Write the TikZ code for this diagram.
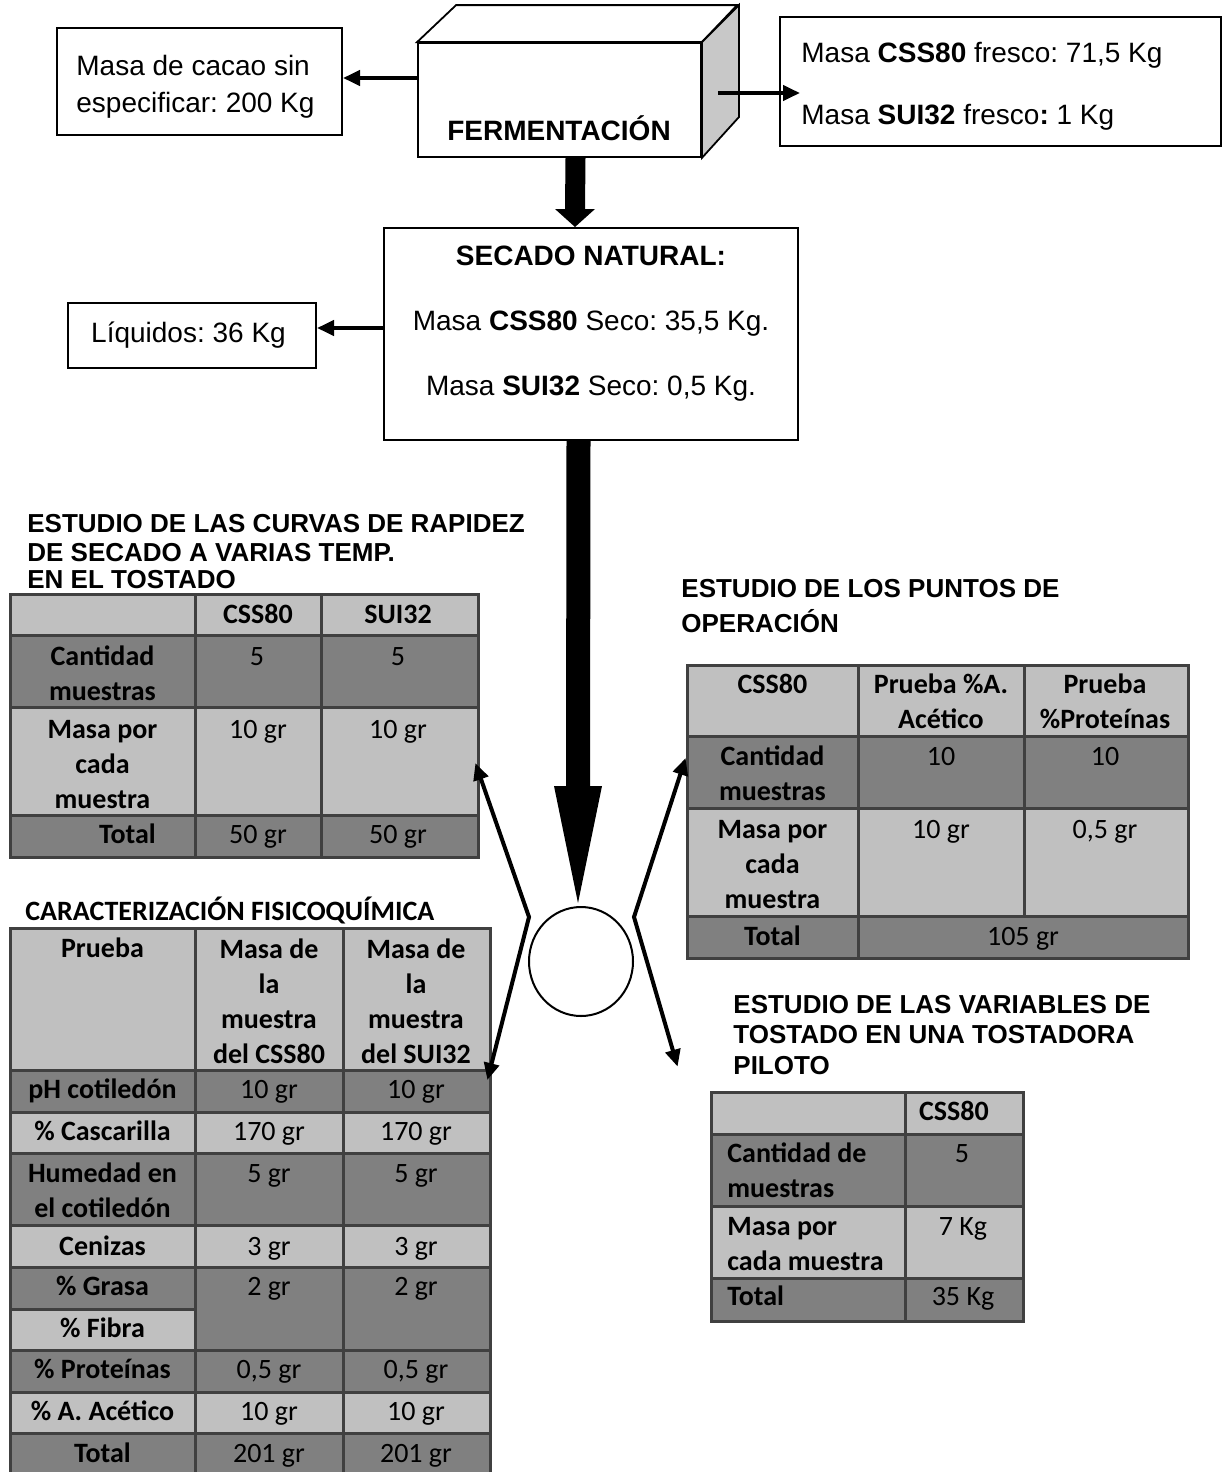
\documentclass[tikz,border=0pt]{standalone}
\usepackage{fontspec}
\setmainfont{Liberation Sans}
\newfontfamily\calfont{Carlito}
\usetikzlibrary{arrows.meta,fit,calc,shapes.geometric}
\definecolor{lgray}{HTML}{C0C0C0}
\definecolor{dgray}{HTML}{808080}
\definecolor{bgray}{HTML}{404040}
\definecolor{sidegray}{HTML}{C8C8C8}
\newcommand\thickarr[5]{%
  \fill ($(#1)+(-#3,0)$) -- ($(#2)+(-#3,-#5)$) -- ($(#2)+(-#4,-#5)$) -- (#2)
    -- ($(#2)+(#4,-#5)$) -- ($(#2)+(#3,-#5)$) -- ($(#1)+(#3,0)$) -- cycle;}
\frenchspacing
\begin{document}
\frenchspacing
\begin{tikzpicture}[x=0.5pt,y=-0.5pt,
  box/.style={draw=black, line width=1pt, inner sep=0pt},
  btxt/.style={font=\fontsize{14}{17}\selectfont, inner sep=0pt},
  bbtxt/.style={font=\fontsize{14}{17}\selectfont\bfseries, inner sep=0pt},
  ttl/.style={font=\fontsize{13}{15}\selectfont\bfseries, inner sep=0pt, anchor=base west},
  ctx/.style={font=\calfont\fontsize{14}{17.5}\selectfont, inner sep=0pt, anchor=base, align=center},
  cbx/.style={font=\calfont\fontsize{14}{17.5}\selectfont\bfseries, inner sep=0pt, anchor=base, align=center},
  cbl/.style={font=\calfont\fontsize{14}{17.5}\selectfont\bfseries, inner sep=0pt, anchor=base west, align=left},
  tarrow/.style={line width=2pt, -{Triangle[length=8.5pt,width=7.5pt]}},
  grid/.style={draw=bgray, line width=1.5pt},
  tabnode/.style={inner sep=0pt}]
\useasboundingbox (0,0) rectangle (1225,1472);

% ---------- cube ----------
\node[fit={(418,43)(701,157)}, box, line width=0.9pt] (cube) {};
\filldraw[fill=white, line width=0.9pt] (cube.north west) -- ++(39,-37) -- ++(281,0) -- (cube.north east) -- cycle;
\filldraw[fill=sidegray, line width=0.9pt] (cube.north east) -- ++(37,-37) -- ++(0,112) -- (cube.south east) -- cycle;
\node[bbtxt, anchor=base] (ferm) at (559,140) {FERMENTACIÓN};

% ---------- left box ----------
\node[box, fit={(57,28)(342,135)}] (bL) {};
\node[btxt, anchor=base west] (bL1) at (76,75) {Masa de cacao sin};
\node[btxt, anchor=base west] (bL2) at (76,112) {especificar: 200 Kg};
\draw[tarrow] (cube.west |- 0,78) -- (bL.east |- 0,78);

% ---------- right box ----------
\node[box, fit={(780,17)(1221,146)}] (bR) {};
\node[btxt, anchor=base west] (bR1) at (801,62) {Masa \textbf{CSS80} fresco: 71,5 Kg};
\node[btxt, anchor=base west] (bR2) at (801,124) {Masa \textbf{SUI32} fresco\textbf{:} 1 Kg};
\draw[tarrow] ($(cube.east)+(16,-7)$) -- ($(bR.west |- 0,93)+(21,0)$);

% ---------- secado ----------
\node[box, fit={(384,228)(798,440)}] (sec) {};
\node[bbtxt, anchor=base] (sec1) at (591,265) {SECADO NATURAL:};
\node[btxt, anchor=base] (sec2) at (591,330) {Masa \textbf{CSS80} Seco: 35,5 Kg.};
\node[btxt, anchor=base] (sec3) at (591,395) {Masa \textbf{SUI32} Seco: 0,5 Kg.};
\coordinate (a1s) at ($(cube.south)+(16,0)$);
\coordinate (a1e) at ($(sec.north)+(-16,0)$);
\thickarr{a1s}{a1e}{10}{20}{18}

% ---------- liquidos ----------
\node[box, fit={(68,303)(316,368)}] (liq) {};
\node[btxt, anchor=base] (liq1) at (188.5,342) {Líquidos: 36 Kg};
\draw[tarrow] (sec.west |- 0,328) -- (liq.east |- 0,328);

% ---------- circle ----------
\node[draw, ellipse, line width=1pt, minimum width=52pt, minimum height=54.5pt, inner sep=0pt] (circ) at (581,961.5) {};
\coordinate (a2s) at ($(sec.south)+(-12.5,0)$);
\coordinate (a2e) at ($(circ.north)+(-3,-3)$);
\thickarr{a2s}{a2e}{12}{24}{117}

% ---------- table 1 ----------
\node[ttl] (t1a) at (27,532) {ESTUDIO DE LAS CURVAS DE RAPIDEZ};
\node[ttl] (t1b) at (27,561) {DE SECADO A VARIAS TEMP.};
\node[ttl] (t1c) at (27,588) {EN EL TOSTADO};
\fill[lgray] (10,594) rectangle (478,635);
\fill[dgray] (10,635) rectangle (478,707);
\fill[lgray] (10,707) rectangle (478,815);
\fill[dgray] (10,815) rectangle (478,857);
\draw[grid] (10,594) rectangle (478,857);
\draw[grid] (10,635) -- (478,635) (10,707) -- (478,707) (10,815) -- (478,815)
  (195,594) -- (195,857) (321,594) -- (321,857);
\node[tabnode, fit={(10,594)(478,857)}] (tab1) {};
\node[cbx] (c1a) at (258,623) {CSS80};
\node[cbx] (c1b) at (398,623) {SUI32};
\node[cbx] (c1c) at (102.5,700) {Cantidad\\muestras};
\node[ctx] (c1d) at (257,665) {5};
\node[ctx] (c1e) at (398,665) {5};
\node[cbx] (c1f) at (102.5,808) {Masa por\\cada\\muestra};
\node[ctx] (c1g) at (258,738) {10 gr};
\node[ctx] (c1h) at (398,738) {10 gr};
\node[cbx] (c1i) at (127.5,843) {Total};
\node[ctx] (c1j) at (258,843) {50 gr};
\node[ctx] (c1k) at (398,843) {50 gr};

% ---------- table 2 ----------
\node[ttl] (t2a) at (681,597) {ESTUDIO DE LOS PUNTOS DE};
\node[ttl] (t2b) at (681,632) {OPERACIÓN};
\fill[lgray] (687,665) rectangle (1188,736);
\fill[dgray] (687,736) rectangle (1188,808);
\fill[lgray] (687,808) rectangle (1188,916);
\fill[dgray] (687,916) rectangle (1188,958);
\draw[grid] (687,665) rectangle (1188,958);
\draw[grid] (687,736) -- (1188,736) (687,808) -- (1188,808) (687,916) -- (1188,916)
  (858,665) -- (858,958) (1024,665) -- (1024,916);
\node[tabnode, fit={(687,665)(1188,958)}] (tab2) {};
\node[cbx] (c2a) at (772.5,693) {CSS80};
\node[cbx] (c2b) at (941,728) {Prueba \%A.\\Acético};
\node[cbx] (c2c) at (1105,728) {Prueba\\\%Proteínas};
\node[cbx] (c2d) at (772.5,800) {Cantidad\\muestras};
\node[ctx] (c2e) at (941,765) {10};
\node[ctx] (c2f) at (1105,765) {10};
\node[cbx] (c2g) at (772.5,908) {Masa por\\cada\\muestra};
\node[ctx] (c2h) at (941,838) {10 gr};
\node[ctx] (c2i) at (1105,838) {0,5 gr};
\node[cbx] (c2j) at (772.5,945) {Total};
\node[ctx] (c2k) at (1023,945) {105 gr};

% ---------- table 3 ----------
\node[cbl] (t3a) at (25,920) {CARACTERIZACIÓN FISICOQUÍMICA};
\fill[lgray] (10,928) rectangle (490,1070);
\fill[dgray] (10,1070) rectangle (490,1112);
\fill[lgray] (10,1112) rectangle (490,1153);
\fill[dgray] (10,1153) rectangle (490,1225);
\fill[lgray] (10,1225) rectangle (490,1267);
\fill[dgray] (10,1267) rectangle (490,1350);
\fill[lgray] (10,1309) rectangle (195,1350);
\fill[dgray] (10,1350) rectangle (490,1392);
\fill[lgray] (10,1392) rectangle (490,1433);
\fill[dgray] (10,1433) rectangle (490,1474);
\draw[grid] (10,928) rectangle (490,1474);
\draw[grid] (10,1070) -- (490,1070) (10,1112) -- (490,1112) (10,1153) -- (490,1153)
  (10,1225) -- (490,1225) (10,1267) -- (490,1267) (10,1309) -- (195,1309)
  (10,1350) -- (490,1350) (10,1392) -- (490,1392) (10,1433) -- (490,1433)
  (195,928) -- (195,1474) (343,928) -- (343,1474);
\node[tabnode, fit={(10,928)(490,1474)}] (tab3) {};
\node[cbx] (c3a) at (102.5,957) {Prueba};
\node[cbx] (c3b) at (269,1063) {Masa de\\la\\muestra\\del CSS80};
\node[cbx] (c3c) at (416,1063) {Masa de\\la\\muestra\\del SUI32};
\node[cbx] (c3d) at (102.5,1098) {pH cotiledón};
\node[ctx] (c3e) at (269,1098) {10 gr};
\node[ctx] (c3f) at (416,1098) {10 gr};
\node[cbx] (c3g) at (102.5,1140) {\% Cascarilla};
\node[ctx] (c3h) at (269,1140) {170 gr};
\node[ctx] (c3i) at (416,1140) {170 gr};
\node[cbx] (c3j) at (102.5,1217) {Humedad en\\el cotiledón};
\node[ctx] (c3k) at (269,1182) {5 gr};
\node[ctx] (c3l) at (416,1182) {5 gr};
\node[cbx] (c3m) at (102.5,1255) {Cenizas};
\node[ctx] (c3n) at (269,1255) {3 gr};
\node[ctx] (c3o) at (416,1255) {3 gr};
\node[cbx] (c3p) at (102.5,1295) {\% Grasa};
\node[ctx] (c3q) at (269,1295) {2 gr};
\node[ctx] (c3r) at (416,1295) {2 gr};
\node[cbx] (c3s) at (102.5,1337) {\% Fibra};
\node[cbx] (c3t) at (102.5,1378) {\% Proteínas};
\node[ctx] (c3u) at (269,1378) {0,5 gr};
\node[ctx] (c3v) at (416,1378) {0,5 gr};
\node[cbx] (c3w) at (102.5,1420) {\% A. Acético};
\node[ctx] (c3x) at (269,1420) {10 gr};
\node[ctx] (c3y) at (416,1420) {10 gr};
\node[cbx] (c3z) at (102.5,1462) {Total};
\node[ctx] (c3aa) at (269,1462) {201 gr};
\node[ctx] (c3ab) at (416,1462) {201 gr};

% ---------- table 4 ----------
\node[ttl] (t4a) at (733,1013) {ESTUDIO DE LAS VARIABLES DE};
\node[ttl] (t4b) at (733,1043) {TOSTADO EN UNA TOSTADORA};
\node[ttl] (t4c) at (733,1074) {PILOTO};
\fill[lgray] (711,1092) rectangle (1023,1134);
\fill[dgray] (711,1134) rectangle (1023,1206);
\fill[lgray] (711,1206) rectangle (1023,1278);
\fill[dgray] (711,1278) rectangle (1023,1321);
\draw[grid] (711,1092) rectangle (1023,1321);
\draw[grid] (711,1134) -- (1023,1134) (711,1206) -- (1023,1206) (711,1278) -- (1023,1278)
  (905,1092) -- (905,1321);
\node[tabnode, fit={(711,1092)(1023,1321)}] (tab4) {};
\node[cbx] (c4a) at (954,1120) {CSS80};
\node[cbl] (c4b) at (727,1197) {Cantidad de\\muestras};
\node[ctx] (c4c) at (962,1162) {5};
\node[cbl] (c4d) at (727,1270) {Masa por\\cada muestra};
\node[ctx] (c4e) at (963,1235) {7 Kg};
\node[cbl] (c4f) at (727,1305) {Total};
\node[ctx] (c4g) at (963,1305) {35 Kg};

% ---------- chevron arrows ----------
\coordinate (vL) at ($(circ.west)+(1,-44.5)$);
\coordinate (vR) at ($(circ.east)+(0,-44.5)$);
\coordinate (tipA) at ($(tab1.east |- 0,763)+(-3,0)$);
\coordinate (tipB) at ($(tab3.east |- 0,1080)+(-3,0)$);
\coordinate (tipC) at ($(tab2.west |- 0,758)+(-1,0)$);
\coordinate (tipD) at ($(tab4.north west)+(-33,-25)$);
\draw[line width=2pt, line join=miter, {Triangle[length=8.5pt,width=7.5pt]}-{Triangle[length=8.5pt,width=7.5pt]}] (tipA) -- (vL) -- (tipB);
\draw[line width=2pt, line join=miter, {Triangle[length=8.5pt,width=7.5pt]}-{Triangle[length=8.5pt,width=7.5pt]}] (tipC) -- (vR) -- (tipD);
\end{tikzpicture}
\end{document}
